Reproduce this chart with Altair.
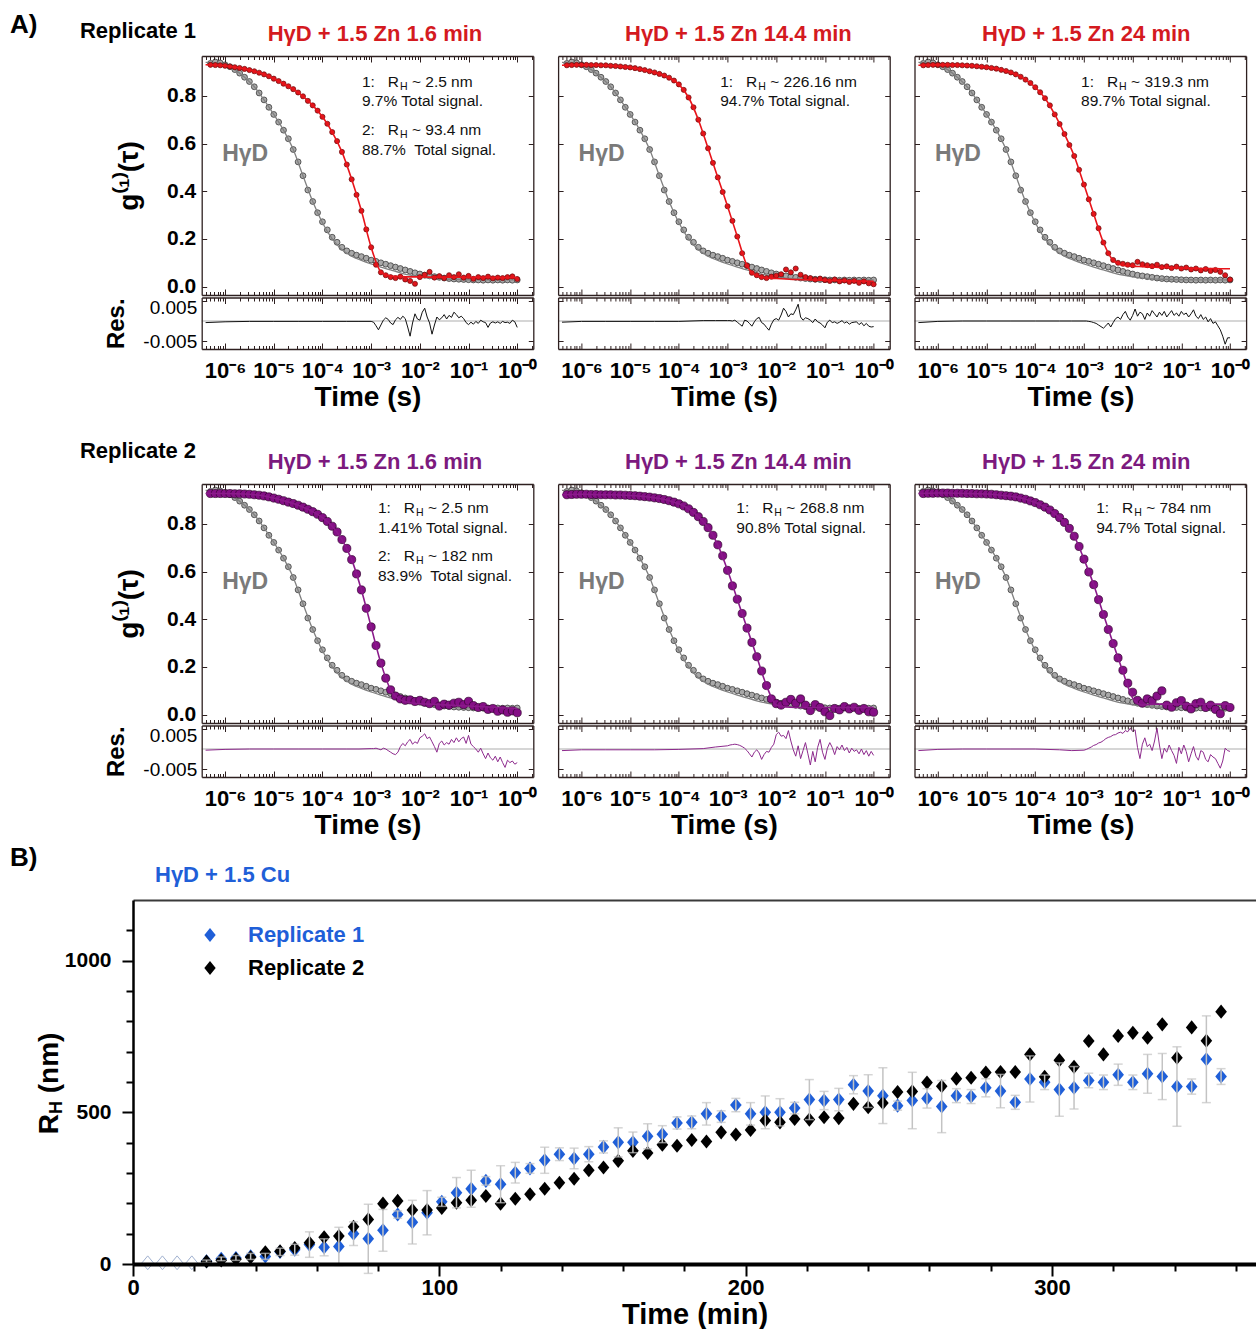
import altair as alt
import pandas as pd

FONT = "Liberation Sans"

# ------------------------------------------------------------------
# (A) DLS field autocorrelation g1(tau) with fit residuals
# ------------------------------------------------------------------
# correlator lag times, log10(tau / s)
LOG_TAU = [-6.3, -6.2, -6.1, -6.0, -5.9, -5.8, -5.7, -5.6, -5.5, -5.4,
           -5.3, -5.2, -5.1, -5.0, -4.9, -4.8, -4.7, -4.6, -4.5, -4.4,
           -4.3, -4.2, -4.1, -4.0, -3.9, -3.8, -3.7, -3.6, -3.5, -3.4,
           -3.3, -3.2, -3.1, -3.0, -2.9, -2.8, -2.7, -2.6, -2.5, -2.4,
           -2.3, -2.2, -2.1, -2.0, -1.9, -1.8, -1.7, -1.6, -1.5, -1.4,
           -1.3, -1.2, -1.1, -1.0, -0.9, -0.8, -0.7, -0.6, -0.5, -0.4,
           -0.3, -0.2, -0.1, 0.0]
# lag times at which the fitted curves are tabulated
FIT_LOG_TAU = [-6.4, -6.2, -6.0, -5.8, -5.6, -5.4, -5.2, -5.0, -4.8, -4.6,
               -4.4, -4.2, -4.0, -3.8, -3.6, -3.4, -3.2, -3.0, -2.8, -2.6,
               -2.4, -2.2, -2.0, -1.8, -1.6, -1.4, -1.2, -1.0, -0.8, -0.6,
               -0.4, -0.2, 0.0]
# lag times of the residual traces
RES_LOG_TAU = [-6.4, -6.0, -5.5, -5.0, -4.5, -4.0, -3.5, -3.25,
               -3.0, -2.95, -2.9, -2.85, -2.8, -2.75, -2.7, -2.65, -2.6, -2.55,
               -2.5, -2.45, -2.4, -2.35, -2.3, -2.25, -2.2, -2.15, -2.1, -2.05,
               -2.0, -1.95, -1.9, -1.85, -1.8, -1.75, -1.7, -1.65, -1.6, -1.55,
               -1.5, -1.45, -1.4, -1.35, -1.3, -1.25, -1.2, -1.15, -1.1, -1.05,
               -1.0, -0.95, -0.9, -0.85, -0.8, -0.75, -0.7, -0.65, -0.6, -0.55,
               -0.5, -0.45, -0.4, -0.35, -0.3, -0.25, -0.2, -0.15, -0.1, -0.05,
               0.0]

# monomeric HγD reference (grey)
G_HYD = [0.936, 0.942, 0.938, 0.930, 0.922, 0.910, 0.895, 0.878, 0.860, 0.838,
         0.812, 0.783, 0.752, 0.722, 0.690, 0.656, 0.620, 0.575, 0.523, 0.465,
         0.405, 0.357, 0.310, 0.272, 0.238, 0.207, 0.186, 0.165, 0.150, 0.140,
         0.132, 0.126, 0.119, 0.111, 0.106, 0.100, 0.094, 0.088, 0.082, 0.076,
         0.070, 0.064, 0.058, 0.053, 0.048, 0.045, 0.042, 0.039, 0.036, 0.034,
         0.032, 0.031, 0.030, 0.029, 0.028, 0.028, 0.027, 0.028, 0.027, 0.028,
         0.027, 0.028, 0.027, 0.028]
FIT_HYD = [0.940, 0.938, 0.930, 0.910, 0.878, 0.838, 0.783, 0.722, 0.656, 0.575,
           0.465, 0.357, 0.268, 0.200, 0.155, 0.128, 0.110, 0.095, 0.082, 0.070,
           0.058, 0.048, 0.041, 0.036, 0.033, 0.031, 0.030, 0.029, 0.029, 0.028,
           0.028, 0.028, 0.028]

# replicate 1, HγD + 1.5 Zn
G_REP1_1P6 = [0.930, 0.929, 0.928, 0.926, 0.923, 0.920, 0.917, 0.913, 0.908, 0.903,
              0.897, 0.890, 0.882, 0.872, 0.862, 0.851, 0.840, 0.828, 0.814, 0.798,
              0.779, 0.760, 0.738, 0.712, 0.683, 0.648, 0.610, 0.565, 0.512, 0.450,
              0.385, 0.318, 0.240, 0.165, 0.092, 0.060, 0.048, 0.040, 0.036, 0.042,
              0.030, 0.024, 0.012, 0.040, 0.050, 0.062, 0.038, 0.044, 0.036, 0.048,
              0.040, 0.052, 0.038, 0.045, 0.033, 0.040, 0.036, 0.042, 0.035, 0.038,
              0.036, 0.040, 0.043, 0.032]
FIT_REP1_1P6 = [0.930, 0.929, 0.926, 0.920, 0.913, 0.903, 0.890, 0.872, 0.851, 0.828,
                0.798, 0.760, 0.712, 0.648, 0.565, 0.450, 0.318, 0.165, 0.062, 0.044,
                0.042, 0.041, 0.041, 0.040, 0.040, 0.040, 0.040, 0.039, 0.039, 0.039,
                0.038, 0.038, 0.038]
G_REP1_14P4 = [0.928, 0.929, 0.930, 0.930, 0.930, 0.929, 0.929, 0.928, 0.928, 0.926,
               0.925, 0.923, 0.921, 0.919, 0.916, 0.912, 0.908, 0.903, 0.898, 0.892,
               0.885, 0.876, 0.864, 0.848, 0.825, 0.793, 0.752, 0.700, 0.642, 0.580,
               0.519, 0.458, 0.397, 0.337, 0.276, 0.210, 0.140, 0.088, 0.058, 0.048,
               0.040, 0.036, 0.042, 0.046, 0.052, 0.072, 0.060, 0.076, 0.050, 0.040,
               0.036, 0.030, 0.034, 0.028, 0.024, 0.030, 0.022, 0.026, 0.020, 0.024,
               0.016, 0.022, 0.014, 0.010]
FIT_REP1_14P4 = [0.928, 0.929, 0.930, 0.929, 0.928, 0.926, 0.923, 0.919, 0.912, 0.903,
                 0.892, 0.876, 0.848, 0.793, 0.700, 0.580, 0.458, 0.337, 0.210, 0.088,
                 0.045, 0.036, 0.034, 0.032, 0.030, 0.029, 0.028, 0.027, 0.026, 0.025,
                 0.024, 0.023, 0.022]
G_REP1_24 = [0.928, 0.929, 0.930, 0.930, 0.930, 0.930, 0.929, 0.929, 0.928, 0.927,
             0.926, 0.924, 0.922, 0.920, 0.917, 0.914, 0.909, 0.904, 0.898, 0.890,
             0.880, 0.868, 0.854, 0.836, 0.815, 0.790, 0.760, 0.722, 0.682, 0.640,
             0.594, 0.548, 0.490, 0.428, 0.366, 0.305, 0.245, 0.185, 0.140, 0.112,
             0.100, 0.096, 0.092, 0.090, 0.104, 0.094, 0.090, 0.086, 0.092, 0.082,
             0.085, 0.078, 0.084, 0.076, 0.080, 0.072, 0.076, 0.068, 0.074, 0.066,
             0.070, 0.062, 0.048, 0.030]
FIT_REP1_24 = [0.928, 0.929, 0.930, 0.930, 0.929, 0.927, 0.924, 0.920, 0.914, 0.904,
               0.890, 0.868, 0.836, 0.790, 0.722, 0.640, 0.548, 0.428, 0.305, 0.185,
               0.110, 0.090, 0.086, 0.084, 0.082, 0.080, 0.079, 0.078, 0.077, 0.076,
               0.076, 0.075, 0.075]

# replicate 2, HγD + 1.5 Zn
G_REP2_1P6 = [0.927, 0.927, 0.927, 0.927, 0.927, 0.926, 0.926, 0.925, 0.924, 0.922,
              0.920, 0.917, 0.913, 0.908, 0.903, 0.897, 0.891, 0.885, 0.878, 0.870,
              0.861, 0.851, 0.840, 0.826, 0.810, 0.790, 0.766, 0.734, 0.697, 0.650,
              0.590, 0.523, 0.446, 0.368, 0.290, 0.216, 0.153, 0.104, 0.078, 0.066,
              0.060, 0.062, 0.055, 0.060, 0.052, 0.046, 0.056, 0.036, 0.044, 0.040,
              0.048, 0.052, 0.042, 0.056, 0.038, 0.030, 0.034, 0.022, 0.026, 0.014,
              0.020, 0.010, 0.016, 0.008]
FIT_REP2_1P6 = [0.927, 0.927, 0.927, 0.926, 0.925, 0.922, 0.917, 0.908, 0.897, 0.885,
                0.870, 0.851, 0.826, 0.790, 0.734, 0.650, 0.523, 0.368, 0.216, 0.104,
                0.062, 0.050, 0.046, 0.044, 0.042, 0.040, 0.038, 0.036, 0.034, 0.032,
                0.030, 0.028, 0.026]
G_REP2_14P4 = [0.922, 0.923, 0.924, 0.924, 0.924, 0.923, 0.923, 0.922, 0.922, 0.922,
               0.921, 0.921, 0.920, 0.919, 0.918, 0.916, 0.914, 0.912, 0.909, 0.906,
               0.902, 0.897, 0.891, 0.884, 0.875, 0.863, 0.848, 0.830, 0.810, 0.784,
               0.752, 0.712, 0.666, 0.605, 0.540, 0.484, 0.424, 0.363, 0.303, 0.243,
               0.183, 0.122, 0.066, 0.046, 0.040, 0.052, 0.064, 0.048, 0.066, 0.040,
               0.017, 0.042, 0.030, 0.012, -0.004, 0.026, 0.020, 0.034, 0.024, 0.031,
               0.018, 0.026, 0.012, 0.010]
FIT_REP2_14P4 = [0.922, 0.923, 0.924, 0.923, 0.922, 0.922, 0.921, 0.919, 0.916, 0.912,
                 0.906, 0.897, 0.884, 0.863, 0.830, 0.784, 0.712, 0.605, 0.484, 0.363,
                 0.243, 0.122, 0.040, 0.032, 0.030, 0.030, 0.030, 0.030, 0.030, 0.030,
                 0.030, 0.030, 0.030]
G_REP2_24 = [0.927, 0.928, 0.928, 0.929, 0.929, 0.929, 0.928, 0.928, 0.928, 0.927,
             0.927, 0.926, 0.926, 0.925, 0.924, 0.922, 0.920, 0.918, 0.916, 0.913,
             0.908, 0.903, 0.896, 0.889, 0.880, 0.870, 0.858, 0.843, 0.826, 0.806,
             0.781, 0.748, 0.705, 0.652, 0.598, 0.545, 0.482, 0.420, 0.357, 0.298,
             0.238, 0.186, 0.132, 0.094, 0.060, 0.048, 0.066, 0.058, 0.078, 0.100,
             0.040, 0.031, 0.050, 0.059, 0.036, 0.024, 0.046, 0.052, 0.030, 0.040,
             0.022, 0.004, 0.038, 0.030]
FIT_REP2_24 = [0.927, 0.928, 0.929, 0.929, 0.928, 0.927, 0.926, 0.925, 0.922, 0.918,
               0.913, 0.903, 0.889, 0.870, 0.843, 0.806, 0.748, 0.652, 0.545, 0.420,
               0.298, 0.180, 0.070, 0.040, 0.044, 0.044, 0.044, 0.044, 0.044, 0.044,
               0.044, 0.044, 0.044]

# fit residuals, in units of 1e-3
RES_REP1_1P6 = [-0.4, -0.2, -0.1, -0.1, -0.1, -0.1, -0.1, -0.1,
                -0.1, -0.3, -1.2, -2.2, -1.0, 0.2, 0.8, 0.4, -0.5, -0.9,
                0.3, 0.9, 0.4, 1.2, 0.6, -1.5, -3.8, -0.5, 1.8, 0.5,
                0.2, 2.2, 3.2, 1.0, -0.5, -3.3, -1.0, 1.0, 0.3, 0.8,
                1.6, 0.5, 1.4, 0.9, 2.2, 1.6, 0.8, 1.2, 0.6, -0.4,
                -0.9, -0.3, -0.8, -0.1, -0.6, 0.2, -0.2, -0.4, -1.6, -0.5,
                -0.2, -0.5, -0.2, -0.6, -0.1, -0.4, -0.3, -0.6, 0.2, -0.2,
                -1.6]
RES_REP1_14P4 = [-0.3, -0.1, -0.1, -0.1, -0.1, -0.1, 0.1, 0.1,
                 0.1, 0.1, 0.0, 0.2, -0.3, -0.8, -1.3, 0.2, 0.0, -0.6,
                 -1.3, -0.2, 0.6, 0.9, -0.4, -0.8, -1.6, -2.3, -0.8, 0.3,
                 0.6, 0.2, 1.5, 3.2, 2.4, 1.0, 1.8, 1.6, 2.8, 4.2,
                 1.0, 0.2, 0.8, 0.6, 0.2, -0.4, 0.5, -0.2, -0.5, -1.0,
                 -1.7, -0.3, 0.2, -0.4, -0.2, -0.6, -0.3, 0.1, -0.5, -0.2,
                 -0.8, -0.4, -0.3, -0.2, -0.9, -0.4, -1.2, -0.6, -1.3, -1.5,
                 -1.4]
RES_REP1_24 = [-0.4, -0.1, 0.0, 0.0, 0.0, 0.0, 0.0, 0.0,
               0.0, 0.0, -0.1, -0.2, -0.4, -0.6, -1.0, -1.4, -1.8, -1.2,
               -0.5, -1.5, -0.4, 0.6, 1.0, 0.4, 1.6, 2.4, 1.0, 0.2,
               1.4, 3.0, 1.2, 2.2, 1.8, 0.4, 2.0, 1.2, 2.6, 1.8,
               1.0, 2.2, 1.4, 2.4, 1.0, 1.8, 2.6, 1.4, 2.0, 1.2,
               2.4, 1.6, 2.0, 1.0, 1.8, 2.8, 1.2, 0.6, 1.6, 0.4,
               1.0, -0.2, 0.6, -0.6, -0.2, -1.2, -2.2, -3.8, -5.8, -4.2,
               -4.2]
RES_REP2_1P6 = [-0.3, -0.1, 0.0, 0.0, 0.0, 0.0, 0.0, 0.0,
                0.1, 0.1, 0.2, 0.0, -0.2, 0.2, 0.0, -0.4, -0.8, -1.2,
                -1.4, -0.8, 0.6, 1.4, 0.8, 1.8, 2.4, 1.2, 1.8, 1.4,
                2.8, 3.2, 3.8, 2.6, 3.0, 1.8, 0.6, -0.8, 1.4, 2.0,
                1.0, 1.6, 1.2, 2.4, 1.6, 2.8, 1.8, 2.6, 3.0, 1.4,
                3.4, 1.2, 0.6, 0.0, -0.8, 0.2, -1.2, -2.4, -1.0, -2.2,
                -2.8, -1.8, -3.2, -2.0, -3.4, -4.6, -2.8, -3.4, -3.0, -3.8,
                -3.4]
RES_REP2_14P4 = [-0.4, -0.2, -0.2, -0.2, -0.2, -0.1, 0.1, 0.5,
                 0.8, 1.0, 1.1, 1.2, 1.1, 0.9, 0.6, 0.2, -0.4, -1.2,
                 -2.0, -0.8, -0.2, -1.0, -2.6, -1.4, -0.6, -0.8, 0.4, 1.2,
                 3.6, 4.2, 3.2, 3.4, 2.6, 4.6, 2.0, -0.2, -1.8, 0.8,
                 -2.4, -0.4, 1.6, -1.2, -4.0, -0.6, -3.2, 0.4, 2.4, -0.8,
                 -2.6, 0.2, 1.6, 0.4, -1.4, 0.6, -0.2, 1.0, -0.4, 0.4,
                 -1.0, 0.2, -0.6, -0.2, -1.2, 0.0, -1.4, -0.4, -1.8, -0.6,
                 -1.6]
RES_REP2_24 = [-0.4, -0.1, 0.0, 0.0, 0.0, 0.0, -0.2, -0.4,
               -0.3, -0.1, 0.2, 0.5, 0.9, 1.1, 1.5, 1.7, 2.1, 2.6,
               2.9, 3.1, 3.5, 3.6, 4.0, 4.2, 3.9, 4.6, 4.3, 5.2,
               4.4, 4.8, 0.4, -2.4, 1.2, 2.8, 0.6, 1.2, -0.4, 2.0,
               5.2, 1.0, -2.4, 0.2, -0.8, 1.0, -0.4, -1.6, -3.6, 0.4,
               -1.2, 1.0, -0.6, -3.2, -1.2, 0.6, -1.8, -2.8, -0.4, -0.8,
               -2.6, -3.2, -1.4, -2.0, -2.4, -3.6, -4.8, -3.0, 0.2, -0.4,
               -0.6]

TITLES = ["HγD + 1.5 Zn 1.6 min", "HγD + 1.5 Zn 14.4 min", "HγD + 1.5 Zn 24 min"]
RH_TEXT = [["2.5", "93.4"], ["226.16"], ["319.3"], ["2.5", "182"], ["268.8"], ["784"]]
PCT_TEXT = [["9.7% Total signal.", "88.7%\u00a0 Total signal."],
            ["94.7% Total signal."],
            ["89.7% Total signal."],
            ["1.41% Total signal.", "83.9%\u00a0 Total signal."],
            ["90.8% Total signal."],
            ["94.7% Total signal."]]
ANN_LOG_TAU = [-3.19, -3.15, -3.06, -2.86, -2.82, -2.75]
ANN_G = [[0.858, 0.778, 0.657, 0.573], [0.866, 0.783, 0.665, 0.581]]
HYD_LABEL_POS = (-6.06, 0.555)

# ------------------------------------------------------------------
# (B) hydrodynamic radius vs time, HγD + 1.5 Cu
# ------------------------------------------------------------------
T_MIN = [24.0, 28.8, 33.6, 38.4, 43.2, 48.0, 52.8, 57.6, 62.4, 67.2,
         72.0, 76.8, 81.6, 86.4, 91.2, 96.0, 100.8, 105.6, 110.4, 115.2,
         120.0, 124.8, 129.6, 134.4, 139.2, 144.0, 148.8, 153.6, 158.4, 163.2,
         168.0, 172.8, 177.6, 182.4, 187.2, 192.0, 196.8, 201.6, 206.4, 211.2,
         216.0, 220.8, 225.6, 230.4, 235.2, 240.0, 244.8, 249.6, 254.4, 259.2,
         264.0, 268.8, 273.6, 278.4, 283.2, 288.0, 292.8, 297.6, 302.4, 307.2,
         312.0, 316.8, 321.6, 326.4, 331.2, 336.0, 340.8, 345.6, 350.4, 355.2]
RH_REP1 = [9, 17, 20, 25, 25, 40, 47, 64, 55, 58,
           100, 83, 111, 163, 138, 169, 205, 235, 248, 274,
           263, 301, 315, 342, 362, 348, 362, 386, 401, 401,
           421, 428, 465, 467, 495, 486, 524, 495, 500, 500,
           514, 542, 539, 542, 591, 570, 555, 522, 539, 546,
           519, 555, 552, 581, 570, 533, 610, 599, 575, 581,
           605, 599, 624, 599, 627, 618, 585, 585, 675, 618]
ERR_REP1 = [4, 6, 8, 10, 10, 12, 18, 42, 28, 63,
            39, 114, 69, 12, 72, 73, 15, 50, 61, 14,
            61, 34, 16, 43, 21, 34, 25, 20, 48, 34,
            41, 28, 20, 21, 37, 19, 22, 37, 54, 45,
            19, 66, 30, 37, 30, 54, 92, 15, 93, 32,
            86, 23, 23, 30, 55, 23, 76, 24, 88, 70,
            24, 24, 35, 24, 64, 76, 131, 25, 143, 26]
RH_REP2 = [8, 12, 16, 22, 39, 42, 53, 70, 88, 92,
           123, 147, 199, 208, 178, 178, 185, 202, 210, 224,
           199, 215, 230, 248, 268, 281, 309, 318, 340, 373,
           366, 393, 390, 409, 404, 434, 427, 442, 473, 467,
           478, 476, 484, 481, 528, 517, 531, 567, 569, 598,
           586, 611, 614, 631, 633, 633, 691, 617, 672, 650,
           735, 691, 752, 762, 746, 790, 680, 780, 736, 832]
# early time points that stay at baseline size
EARLY_T = [4.8, 9.6, 14.4, 19.2]
EARLY_RH = [4, 4, 4, 4]

# ------------------------------------------------------------------
# styling / geometry
# ------------------------------------------------------------------
RED = "#e0161c"
RED_EDGE = "#6a0808"
RED_TITLE = "#d41a1f"
PURPLE = "#850f86"
PURPLE_EDGE = "#32052f"
PURPLE_TITLE = "#7c1a7e"
FRAME = "#2e2020"
BLUE = "#1f5fd8"
ERR_GRAY = "#c3c3c3"

# Each correlation view shares its left origin with panel B below; its
# plotting frame starts OFF px to the right of that origin.
OFF = 68.7
W = 331.6            # width of one correlation frame
H = 293              # g1 frame + residual strip
G_BOTTOM = 239       # lower edge of the g1 frame
RES_TOP = 241.5      # upper edge of the residual strip
G_DOMAIN = [-0.035, 0.967]
RES_DOMAIN = [-0.007, 0.005875]
X_DOMAIN = [10 ** -6.48, 10 ** 0.33]
MAJOR = [1e-6, 1e-5, 1e-4, 1e-3, 1e-2, 1e-1, 1e0]
MINOR = [m * 10.0 ** e for e in range(-7, 1) for m in range(2, 10)
         if X_DOMAIN[0] <= m * 10.0 ** e <= X_DOMAIN[1]]
G_TICKS = [0.0, 0.2, 0.4, 0.6, 0.8]
RES_TICKS = [-0.005, 0.005]

X_LABEL_EXPR = ("'10' + (datum.value < 3e-6 ? '⁻⁶' : datum.value < 3e-5 ? '⁻⁵' : "
                "datum.value < 3e-4 ? '⁻⁴' : datum.value < 3e-3 ? '⁻³' : "
                "datum.value < 3e-2 ? '⁻²' : datum.value < 3e-1 ? '⁻¹' : '⁻⁰')")
RES_LABEL_EXPR = "(datum.value < 0 ? '-' : '') + format(abs(datum.value), '.3f')"


def x_tau(axis=None):
    return alt.X("tau:Q", scale=alt.Scale(type="log", domain=X_DOMAIN, range=[OFF, OFF + W],
                                          nice=False), axis=axis)


def y_g(axis=None):
    return alt.Y("g:Q", scale=alt.Scale(domain=G_DOMAIN, range=[G_BOTTOM, 0], nice=False, zero=False),
                 axis=axis)


def y_res(axis=None):
    return alt.Y("r:Q", scale=alt.Scale(domain=RES_DOMAIN, range=[H, RES_TOP], nice=False, zero=False),
                 axis=axis)


def edge_axis(orient, offset, values, size, domain):
    """Tick marks drawn on a frame edge, pointing into the plot."""
    opts = dict(orient=orient, offset=offset, values=values, tickSize=size, tickWidth=1,
                tickColor=FRAME, labels=False, grid=False, domain=domain, title=None, zindex=1)
    if domain:
        opts["domainColor"] = FRAME
        opts["domainWidth"] = 1.3
    return alt.Axis(**opts)


def text_at(text, x, y, size, color="black", weight="bold", align="left", angle=0):
    return alt.Chart(pd.DataFrame({"t": [text]})).mark_text(
        font=FONT, fontSize=size, fontWeight=weight, color=color, align=align,
        baseline="middle", angle=angle
    ).encode(text="t:N", x=alt.value(x), y=alt.value(y))


def tau_frame(log_values, key, values):
    return pd.DataFrame({"tau": [10 ** v for v in log_values], key: values})


PANELS = [
    (G_REP1_1P6, FIT_REP1_1P6, RES_REP1_1P6),
    (G_REP1_14P4, FIT_REP1_14P4, RES_REP1_14P4),
    (G_REP1_24, FIT_REP1_24, RES_REP1_24),
    (G_REP2_1P6, FIT_REP2_1P6, RES_REP2_1P6),
    (G_REP2_14P4, FIT_REP2_14P4, RES_REP2_14P4),
    (G_REP2_24, FIT_REP2_24, RES_REP2_24),
]
TITLE_DX = [7.5, 14.5, 6]


def correlation_panel(idx):
    g_vals, fit_vals, res_vals = PANELS[idx]
    row, col = divmod(idx, 3)
    rep1 = row == 0
    color, edge = (RED, RED_EDGE) if rep1 else (PURPLE, PURPLE_EDGE)
    title_color = RED_TITLE if rep1 else PURPLE_TITLE
    line_color = "#e8141a" if rep1 else "#8a1a8a"
    res_color = "#111111" if rep1 else "#8d2a8d"
    size = 26 if rep1 else 66

    ref = tau_frame(LOG_TAU, "g", G_HYD)
    ref_fit = tau_frame(FIT_LOG_TAU, "g", FIT_HYD)
    pts = tau_frame(LOG_TAU, "g", g_vals)
    fit = tau_frame(FIT_LOG_TAU, "g", fit_vals)
    res = tau_frame(RES_LOG_TAU, "r", [v / 1000 for v in res_vals])
    zero = pd.DataFrame({"tau": X_DOMAIN, "r": [0.0, 0.0]})

    layers = [
        alt.Chart(ref).mark_point(shape="circle", filled=True, size=34, fill="#a9a9a9",
                                  stroke="#3c3c3c", strokeWidth=0.8, opacity=1)
        .encode(x=x_tau(), y=y_g()),
        alt.Chart(ref_fit).mark_line(color="#808080", strokeWidth=1.3, interpolate="monotone")
        .encode(x=x_tau(), y=y_g()),
        alt.Chart(pts).mark_point(shape="circle", filled=True, size=size, fill=color,
                                  stroke=edge, strokeWidth=0.7, opacity=1)
        .encode(x=x_tau(), y=y_g()),
        alt.Chart(fit).mark_line(color=line_color, strokeWidth=1.6, interpolate="monotone")
        .encode(x=x_tau(), y=y_g()),
        alt.Chart(zero).mark_line(color="#c9c9c9", strokeWidth=1.5).encode(x=x_tau(), y=y_res()),
        alt.Chart(res).mark_line(color=res_color, strokeWidth=1).encode(x=x_tau(), y=y_res()),
    ]

    # "HγD" tag next to the reference curve
    hyd = pd.DataFrame({"tau": [10 ** HYD_LABEL_POS[0]], "g": [HYD_LABEL_POS[1]], "t": ["HγD"]})
    layers.append(alt.Chart(hyd).mark_text(font=FONT, fontSize=23, fontWeight="bold", color="#7a7a7a",
                                           align="left", baseline="middle")
                  .encode(x=x_tau(), y=y_g(), text="t:N"))

    # fit summary text
    ys = ANN_G[row]
    ann_tau = 10 ** ANN_LOG_TAU[idx]
    pre_t, pre_g, rest_t, rest_g = [], [], [], []
    for k, rh in enumerate(RH_TEXT[idx]):
        pre_t += [f"{k + 1}:\u00a0\u00a0\u00a0R", PCT_TEXT[idx][k]]
        pre_g += [ys[2 * k], ys[2 * k + 1]]
        rest_t.append(f"~ {rh} nm")
        rest_g.append(ys[2 * k])
    pre = pd.DataFrame({"tau": [ann_tau] * len(pre_t), "g": pre_g, "t": pre_t})
    sub = pd.DataFrame({"tau": [ann_tau] * len(rest_g), "g": rest_g, "t": ["H"] * len(rest_g)})
    rest = pd.DataFrame({"tau": [ann_tau] * len(rest_g), "g": rest_g, "t": rest_t})
    ann_style = dict(font=FONT, color="#111111", align="left", baseline="middle")
    layers += [
        alt.Chart(pre).mark_text(fontSize=15.5, **ann_style).encode(x=x_tau(), y=y_g(), text="t:N"),
        alt.Chart(sub).mark_text(fontSize=10.5, dx=38, dy=5, **ann_style)
        .encode(x=x_tau(), y=y_g(), text="t:N"),
        alt.Chart(rest).mark_text(fontSize=15.5, dx=50, **ann_style)
        .encode(x=x_tau(), y=y_g(), text="t:N"),
    ]

    layers.append(text_at(TITLES[col], OFF + W / 2 + TITLE_DX[col], -22, 22, color=title_color,
                          align="center"))
    if col == 0:
        layers.append(text_at(f"Replicate {row + 1}", OFF - 63.7, -25 if rep1 else -33, 22,
                              align="center"))
        if rep1:
            layers.append(text_at("A)", OFF - 191.7, -31, 26))

    # frame, tick marks and labels
    first = col == 0
    g_lab = alt.Axis(orient="left", offset=-OFF, values=G_TICKS, ticks=False, domain=False,
                     grid=False, format=".1f", labelFont=FONT, labelFontSize=21,
                     labelFontWeight="bold", labelColor="black", labelPadding=6,
                     title="g⁽¹⁾(τ)", titleFont=FONT, titleFontSize=28, titleFontWeight="bold",
                     titleColor="black", titleX=-72, titleBaseline="middle")
    r_lab_hi = alt.Axis(orient="left", offset=-OFF, values=[0.005], ticks=False, domain=False,
                        grid=False, labelExpr=RES_LABEL_EXPR, labelFont=FONT, labelFontSize=19,
                        labelColor="black", labelPadding=5, labelOffset=6, title=None)
    r_lab_lo = alt.Axis(orient="left", offset=-OFF, values=[-0.005], ticks=False, domain=False,
                        grid=False, labelExpr=RES_LABEL_EXPR, labelFont=FONT, labelFontSize=19,
                        labelColor="black", labelPadding=5, title="Res.", titleFont=FONT,
                        titleFontSize=24, titleFontWeight="bold", titleColor="black",
                        titleX=-85, titleBaseline="middle")
    x_lab = alt.Axis(orient="bottom", values=MAJOR, ticks=False, domain=False, grid=False,
                     labelExpr=X_LABEL_EXPR, labelFont=FONT, labelFontSize=22,
                     labelFontWeight="bold", labelColor="black", labelPadding=11,
                     labelOverlap=False, labelFlush=False, title="Time (s)", titleFont=FONT,
                     titleFontSize=28, titleFontWeight="bold", titleColor="black",
                     titleY=48, titleBaseline="middle")

    # inward ticks on the left edge (right-oriented axis placed at x=OFF) and on the
    # right edge (left-oriented axis placed at x=OFF+W)
    left_off = OFF - W
    right_off = -(OFF + W)
    carriers = [
        (edge_axis("bottom", -H, MAJOR, 6, True), "g",
         edge_axis("right", left_off, G_TICKS, 5, True)),
        (edge_axis("bottom", -H, MINOR, 3.5, False), "g",
         edge_axis("left", right_off, G_TICKS, 5, True)),
        (edge_axis("top", -G_BOTTOM, MAJOR, 6, True), "g", g_lab if first else None),
        (edge_axis("top", -G_BOTTOM, MINOR, 3.5, False), "r",
         edge_axis("right", left_off, RES_TICKS, 5, True)),
        (edge_axis("bottom", -(H - RES_TOP), MAJOR, 6, True), "r",
         edge_axis("left", right_off, RES_TICKS, 5, True)),
        (edge_axis("bottom", -(H - RES_TOP), MINOR, 3.5, False), "r", r_lab_hi if first else None),
        (edge_axis("top", -H, MAJOR, 6, True), "r", r_lab_lo if first else None),
        (edge_axis("top", -H, MINOR, 3.5, False), "g", None),
        (x_lab, "g", None),
    ]
    corners = pd.DataFrame({"tau": X_DOMAIN, "g": G_DOMAIN, "r": RES_DOMAIN})
    for xa, which, ya in carriers:
        yenc = y_g(ya) if which == "g" else y_res(ya)
        layers.append(alt.Chart(corners).mark_point(opacity=0).encode(x=x_tau(xa), y=yenc))

    return (alt.layer(*layers)
            .resolve_scale(x="independent", y="independent")
            .resolve_axis(x="independent", y="independent")
            .properties(width=W, height=H))


grid = alt.concat(*[correlation_panel(i) for i in range(6)], columns=3,
                  spacing={"row": 135, "column": 24.4}, bounds="flush")

# ------------------------------------------------------------------
# panel B
# ------------------------------------------------------------------
BW, BH = 1123, 364
T_DOMAIN = [0, 366.6]
RH_DOMAIN = [0, 1200]
DIAMOND = "M0,-1.15L0.95,0L0,1.15L-0.95,0Z"


def bx(axis=None, field="t"):
    return alt.X(f"{field}:Q", scale=alt.Scale(domain=T_DOMAIN, nice=False, zero=False), axis=axis)


def by(field, axis=None):
    return alt.Y(f"{field}:Q", scale=alt.Scale(domain=RH_DOMAIN, nice=False, zero=False), axis=axis)


pts_b = pd.DataFrame({
    "t": T_MIN + T_MIN,
    "rh": RH_REP1 + RH_REP2,
    "rep": ["Replicate 1"] * len(T_MIN) + ["Replicate 2"] * len(T_MIN),
})
err_b = pd.DataFrame({
    "t": T_MIN,
    "lo": [r - e for r, e in zip(RH_REP1, ERR_REP1)],
    "hi": [r + e for r, e in zip(RH_REP1, ERR_REP1)],
})
early_b = pd.DataFrame({"t": EARLY_T, "rh": EARLY_RH})

bx_major = alt.Axis(orient="bottom", values=[0, 100, 200, 300], format="d", tickSize=12, tickWidth=2,
                    tickColor="black", domain=True, domainColor="black", domainWidth=4, grid=False,
                    labelFont=FONT, labelFontSize=22, labelFontWeight="bold", labelColor="black",
                    labelPadding=1, labelFlush=False, title="Time (min)", titleFont=FONT,
                    titleFontSize=29, titleFontWeight="bold", titleColor="black", titleY=50,
                    titleBaseline="middle", zindex=1)
bx_minor = alt.Axis(orient="bottom", values=[20, 40, 60, 80, 120, 140, 160, 180, 220, 240, 260, 280,
                                             320, 340, 360],
                    tickSize=7, tickWidth=2, tickColor="black", domain=False, labels=False,
                    grid=False, title=None, zindex=1)
bx_top = alt.Axis(orient="top", ticks=False, labels=False, domain=True, domainColor="#3a3a3a",
                  domainWidth=2, grid=False, title=None, zindex=1)
by_major = alt.Axis(orient="left", values=[0, 500, 1000], format="d", tickSize=11,
                    tickWidth=2, tickColor="black", domain=True, domainColor="black", domainWidth=2.5,
                    grid=False, labelFont=FONT, labelFontSize=21, labelFontWeight="bold",
                    labelColor="black", labelPadding=11, title=None, zindex=1)
by_minor = alt.Axis(orient="left", values=[100, 200, 300, 400, 600, 700, 800, 900, 1100],
                    tickSize=7, tickWidth=2, tickColor="black", domain=False, labels=False,
                    grid=False, title=None, zindex=1)

legend = alt.Legend(orient="none", legendX=66, legendY=24, title=None, symbolType=DIAMOND,
                    symbolSize=144, symbolStrokeWidth=0, labelFont=FONT, labelFontSize=22,
                    labelFontWeight="bold", labelOffset=27, rowPadding=11, padding=0,
                    labelColor=alt.ExprRef(expr=f"datum.label == 'Replicate 1' ? '{BLUE}' : '#000000'"))

b_layers = [
    alt.Chart(early_b).mark_point(shape=DIAMOND, filled=False, size=144, stroke="#9fb0cf",
                                  strokeWidth=1, opacity=1)
    .encode(x=bx(), y=by("rh")),
    alt.Chart(pts_b).mark_point(shape=DIAMOND, filled=True, size=150, opacity=1)
    .encode(x=bx(bx_major), y=by("rh", by_major),
            color=alt.Color("rep:N", scale=alt.Scale(domain=["Replicate 1", "Replicate 2"],
                                                     range=[BLUE, "#000000"]), legend=legend)),
    alt.Chart(err_b).mark_rule(color=ERR_GRAY, strokeWidth=1.5)
    .encode(x=bx(bx_minor), y=by("lo", by_minor), y2="hi:Q"),
    alt.Chart(err_b).mark_tick(orient="horizontal", size=9, thickness=1.5, color=ERR_GRAY)
    .encode(x=bx(bx_top), y=by("lo")),
    alt.Chart(err_b).mark_tick(orient="horizontal", size=9, thickness=1.5, color=ERR_GRAY)
    .encode(x=bx(), y=by("hi")),
    text_at("B)", -123, -42, 26),
    text_at("HγD + 1.5 Cu", 22, -25, 22, color=BLUE),
    # y-axis title R_H (nm), set vertically
    text_at("R", -83, 234.3, 28, angle=270),
    text_at("H", -76, 214.1, 18, angle=270),
    text_at("(nm)", -83, 193.3, 28, angle=270),
]

panel_b = (alt.layer(*b_layers)
           .resolve_scale(x="independent", y="independent")
           .resolve_axis(x="independent", y="independent")
           .properties(width=BW, height=BH))

chart = (alt.concat(grid, panel_b, columns=1, spacing=6)
         .resolve_scale(color="independent")
         .properties(padding={"left": 10, "top": 12, "right": 0, "bottom": 0})
         .configure(font=FONT)
         .configure_view(stroke=None))

chart.save("out.html", embed_options={"renderer": "svg", "actions": False})
